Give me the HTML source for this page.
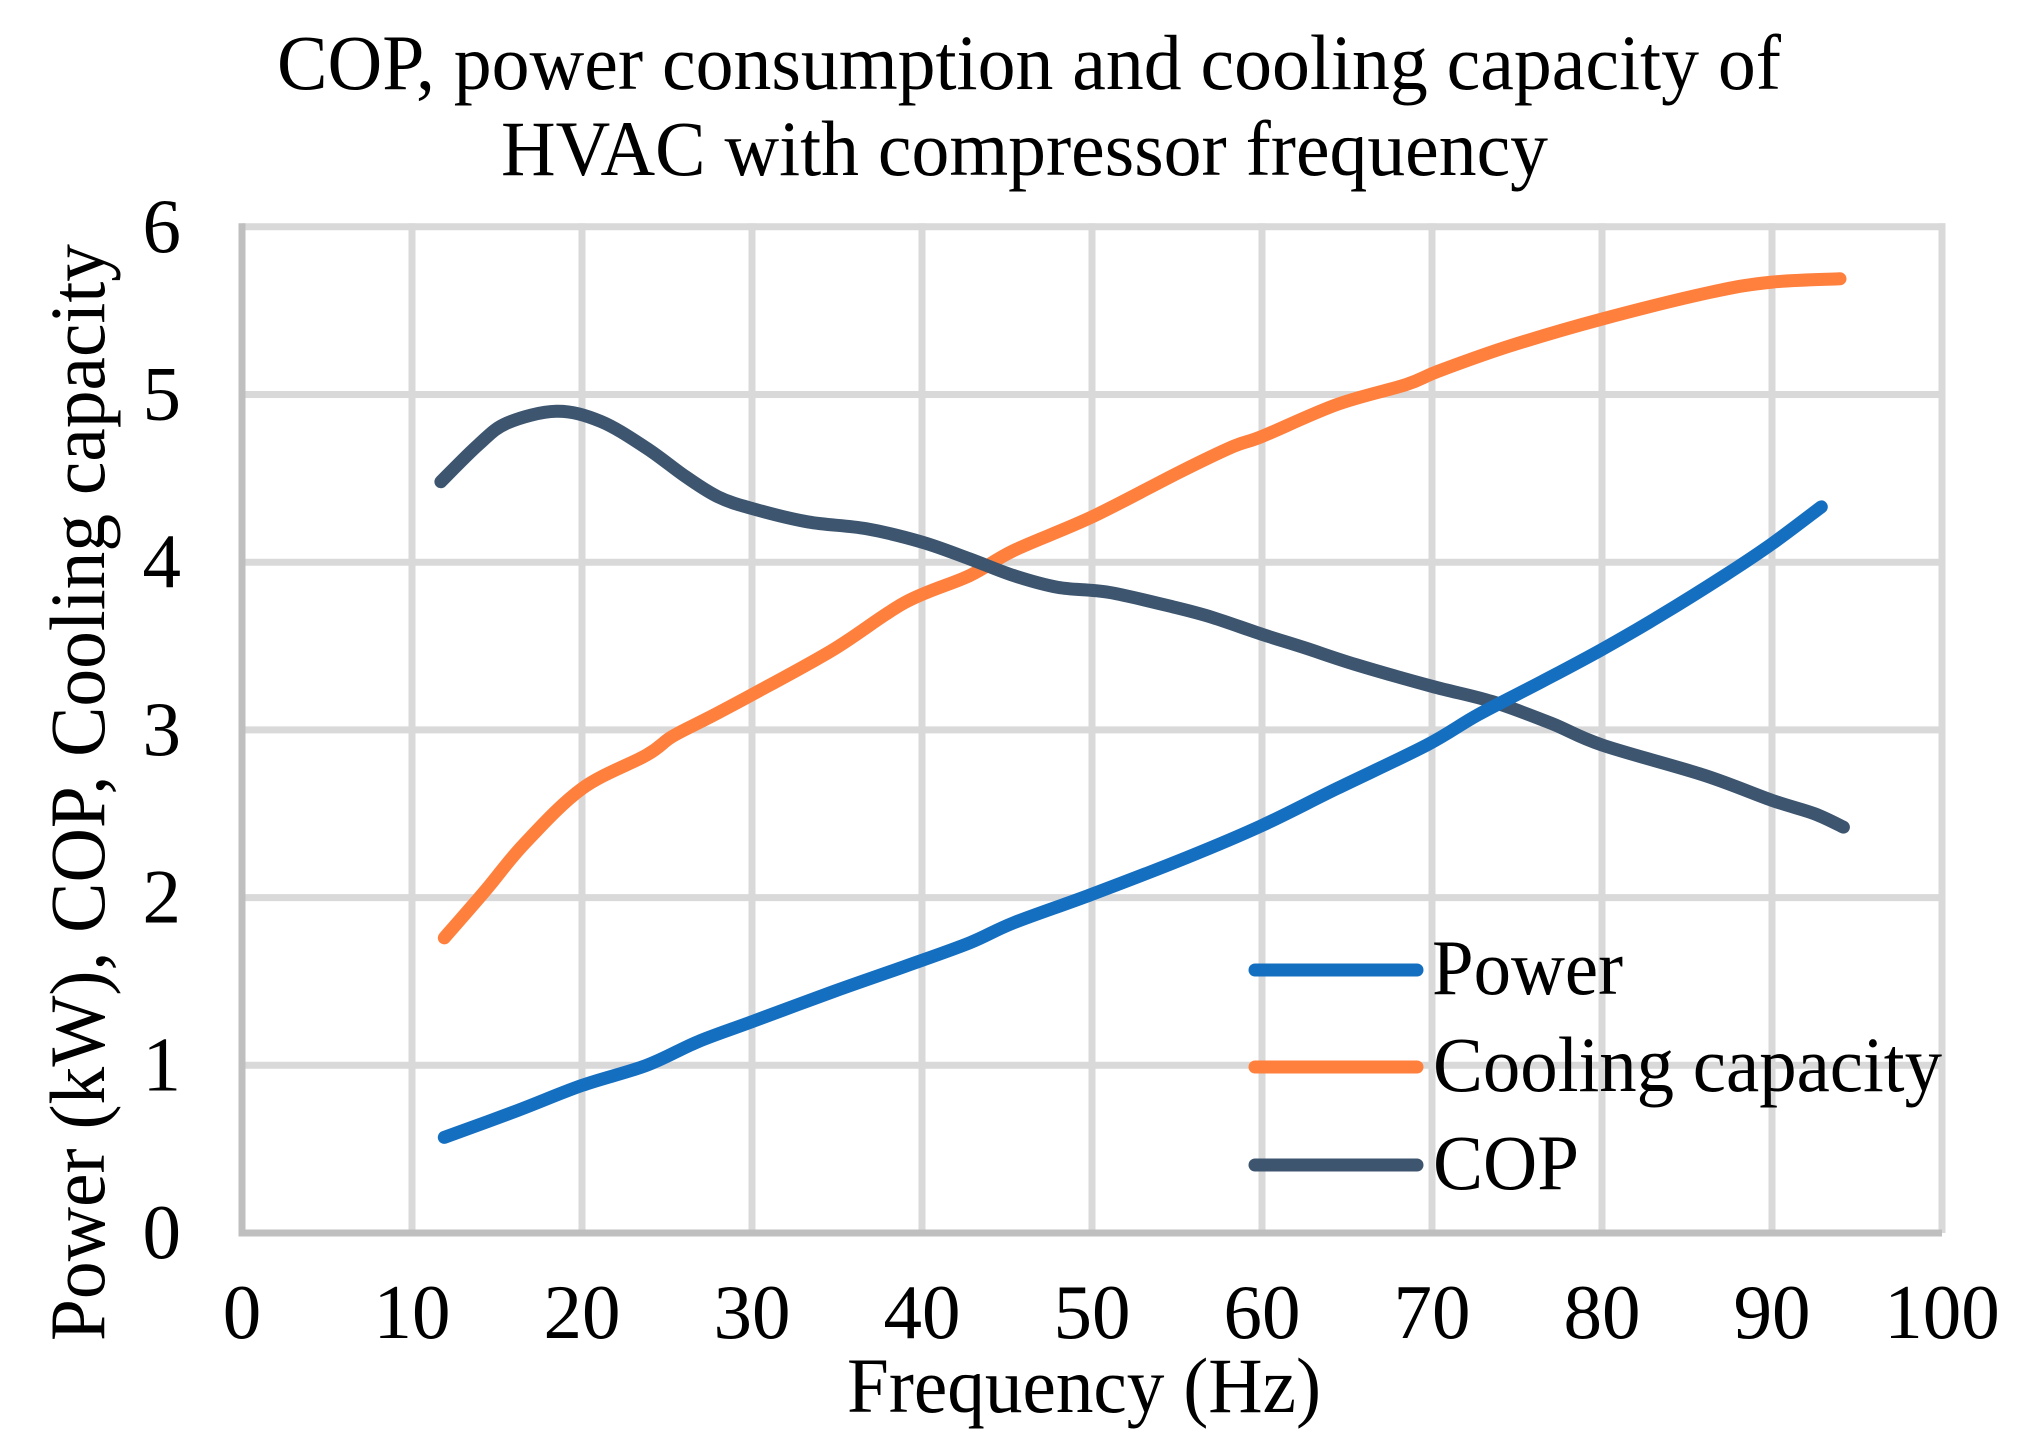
<!DOCTYPE html>
<html lang="en">
<head>
<meta charset="utf-8">
<title>COP, power consumption and cooling capacity of HVAC with compressor frequency</title>
<style>
html,body{margin:0;padding:0;background:#fff;width:2026px;height:1444px;overflow:hidden}
svg{display:block}
text{font-family:"Liberation Serif",serif;fill:#000}
</style>
</head>
<body>
<svg id="chart" xmlns="http://www.w3.org/2000/svg" width="2026" height="1444" viewBox="0 0 2026 1444">
  <rect x="0" y="0" width="2026" height="1444" fill="#ffffff"/>
  <g id="grid"></g>
  <g id="axes"></g>
  <g id="xticks"></g>
  <g id="yticks"></g>
  <g id="legend-lines"></g>
  <g id="series"></g>
  <text x="277" y="89" font-size="78" textLength="1504" lengthAdjust="spacingAndGlyphs">COP, power consumption and cooling capacity of</text>
  <text x="501" y="175" font-size="78" textLength="1047" lengthAdjust="spacingAndGlyphs">HVAC with compressor frequency</text>
  <text x="847" y="1412" font-size="78" textLength="474" lengthAdjust="spacingAndGlyphs">Frequency (Hz)</text>
  <text transform="translate(104 1341) rotate(-90)" x="0" y="0" font-size="78" textLength="1097" lengthAdjust="spacingAndGlyphs">Power (kW), COP, Cooling capacity</text>
  <text x="1432" y="994" font-size="78" textLength="191" lengthAdjust="spacingAndGlyphs">Power</text>
  <text x="1433" y="1091" font-size="78" textLength="509" lengthAdjust="spacingAndGlyphs">Cooling capacity</text>
  <text x="1433" y="1189" font-size="78" textLength="146" lengthAdjust="spacingAndGlyphs">COP</text>
</svg>
<script>
const xTickLabels = [0, 10, 20, 30, 40, 50, 60, 70, 80, 90, 100];
const yTickLabels = [0, 1, 2, 3, 4, 5, 6];

const powerFreq = [11.9, 16.2, 20, 23.8, 26.8, 30, 34.8, 39, 42.8, 45.4, 50, 55.6, 60, 64.4, 69.7, 72.7, 76.5, 80, 83.4, 87.2, 90, 92.9];
const powerValues = [0.57, 0.73, 0.88, 1.0, 1.14, 1.26, 1.44, 1.59, 1.73, 1.85, 2.02, 2.24, 2.43, 2.65, 2.91, 3.09, 3.29, 3.48, 3.68, 3.92, 4.11, 4.33];

const coolingFreq = [11.9, 14.3, 16.6, 20, 23.8, 25.3, 27.4, 30, 34.8, 39, 42.8, 45.4, 50, 55.2, 58.3, 60, 64.4, 68.5, 70.4, 74.6, 80, 86.4, 90, 94];
const coolingValues = [1.76, 2.04, 2.32, 2.65, 2.85, 2.96, 3.07, 3.21, 3.48, 3.76, 3.92, 4.07, 4.27, 4.54, 4.69, 4.75, 4.94, 5.06, 5.14, 5.29, 5.45, 5.61, 5.67, 5.69];

const copFreq = [11.7, 13.9, 15.6, 18.5, 21.1, 23.8, 26.1, 28, 30, 33.3, 36.7, 40, 42.8, 45.4, 48, 51, 54.9, 57.1, 60, 62.5, 65.5, 70, 73.5, 77, 80, 86, 90, 92.5, 94.2];
const copValues = [4.48, 4.7, 4.83, 4.9, 4.84, 4.68, 4.51, 4.39, 4.32, 4.24, 4.2, 4.12, 4.02, 3.92, 3.85, 3.82, 3.73, 3.67, 3.57, 3.49, 3.39, 3.26, 3.17, 3.04, 2.91, 2.73, 2.58, 2.5, 2.42];

const X0 = 242, X_PER_UNIT = 17;
const Y0 = 1233, Y_PER_UNIT = 167.7;
const NS = 'http://www.w3.org/2000/svg';
const GRID = '#d9d9d9', AXIS = '#bfbfbf';
const BLUE = '#156fc1', ORANGE = '#ff7f3c', SLATE = '#3d556f';

function xScale(v) { return X0 + v * X_PER_UNIT; }
function yScale(v) { return Y0 - v * Y_PER_UNIT; }

function svgLine(parent, x1, y1, x2, y2, color, width, cap) {
  const el = document.createElementNS(NS, 'line');
  el.setAttribute('x1', x1);
  el.setAttribute('y1', y1);
  el.setAttribute('x2', x2);
  el.setAttribute('y2', y2);
  el.setAttribute('stroke', color);
  el.setAttribute('stroke-width', width);
  if (cap) el.setAttribute('stroke-linecap', cap);
  parent.appendChild(el);
  return el;
}

const gridG = document.getElementById('grid');
const axesG = document.getElementById('axes');
const xTicksG = document.getElementById('xticks');
const yTicksG = document.getElementById('yticks');
const legendG = document.getElementById('legend-lines');
const seriesG = document.getElementById('series');

const xMax = xTickLabels[xTickLabels.length - 1];
const yMax = yTickLabels[yTickLabels.length - 1];

xTickLabels.forEach(function (t) {
  if (t !== 0) {
    const g = svgLine(gridG, xScale(t), yScale(yMax) - 3.5, xScale(t), yScale(0), GRID, 7);
    
    
  }
  const label = document.createElementNS(NS, 'text');
  label.setAttribute('x', xScale(t));
  label.setAttribute('y', 1338);
  label.setAttribute('font-size', 77);
  label.setAttribute('text-anchor', 'middle');
  
  
  label.textContent = t;
  xTicksG.appendChild(label);
});

yTickLabels.forEach(function (t) {
  if (t !== 0) {
    const g = svgLine(gridG, xScale(0), yScale(t), xScale(xMax) + 3.5, yScale(t), GRID, 7);
    
    
  }
  const label = document.createElementNS(NS, 'text');
  label.setAttribute('x', 181);
  label.setAttribute('y', yScale(t) + 25);
  label.setAttribute('font-size', 77);
  label.setAttribute('text-anchor', 'end');
  
  
  label.textContent = t;
  yTicksG.appendChild(label);
});

const yAxisLine = svgLine(axesG, xScale(0), yScale(yMax) - 3.5, xScale(0), yScale(0) + 3.5, AXIS, 7);


const xAxisLine = svgLine(axesG, xScale(0) - 3.5, yScale(0), xScale(xMax), yScale(0), AXIS, 7);



function smoothPath(xs, ys) {
  const pts = xs.map(function (x, i) { return [xScale(x), yScale(ys[i])]; });
  let d = 'M' + pts[0][0] + ' ' + pts[0][1];
  for (let i = 0; i < pts.length - 1; i++) {
    const p0 = pts[Math.max(i - 1, 0)];
    const p1 = pts[i];
    const p2 = pts[i + 1];
    const p3 = pts[Math.min(i + 2, pts.length - 1)];
    const c1x = p1[0] + (p2[0] - p0[0]) / 6;
    const c1y = p1[1] + (p2[1] - p0[1]) / 6;
    const c2x = p2[0] - (p3[0] - p1[0]) / 6;
    const c2y = p2[1] - (p3[1] - p1[1]) / 6;
    d += ' C' + c1x + ' ' + c1y + ' ' + c2x + ' ' + c2y + ' ' + p2[0] + ' ' + p2[1];
  }
  return d;
}

function drawSeries(xs, ys, color) {
  const el = document.createElementNS(NS, 'path');
  el.setAttribute('d', smoothPath(xs, ys));
  el.setAttribute('fill', 'none');
  el.setAttribute('stroke', color);
  el.setAttribute('stroke-width', 13);
  el.setAttribute('stroke-linecap', 'round');
  el.setAttribute('stroke-linejoin', 'round');
  seriesG.appendChild(el);
  return el;
}

const coolingLine = drawSeries(coolingFreq, coolingValues, ORANGE);


const copLine = drawSeries(copFreq, copValues, SLATE);


const powerLine = drawSeries(powerFreq, powerValues, BLUE);



const legendPower = svgLine(legendG, 1255, 970, 1417, 970, BLUE, 13, 'round');


const legendCooling = svgLine(legendG, 1255, 1067, 1417, 1067, ORANGE, 13, 'round');


const legendCop = svgLine(legendG, 1255, 1165, 1417, 1165, SLATE, 13, 'round');


</script>
</body>
</html>
